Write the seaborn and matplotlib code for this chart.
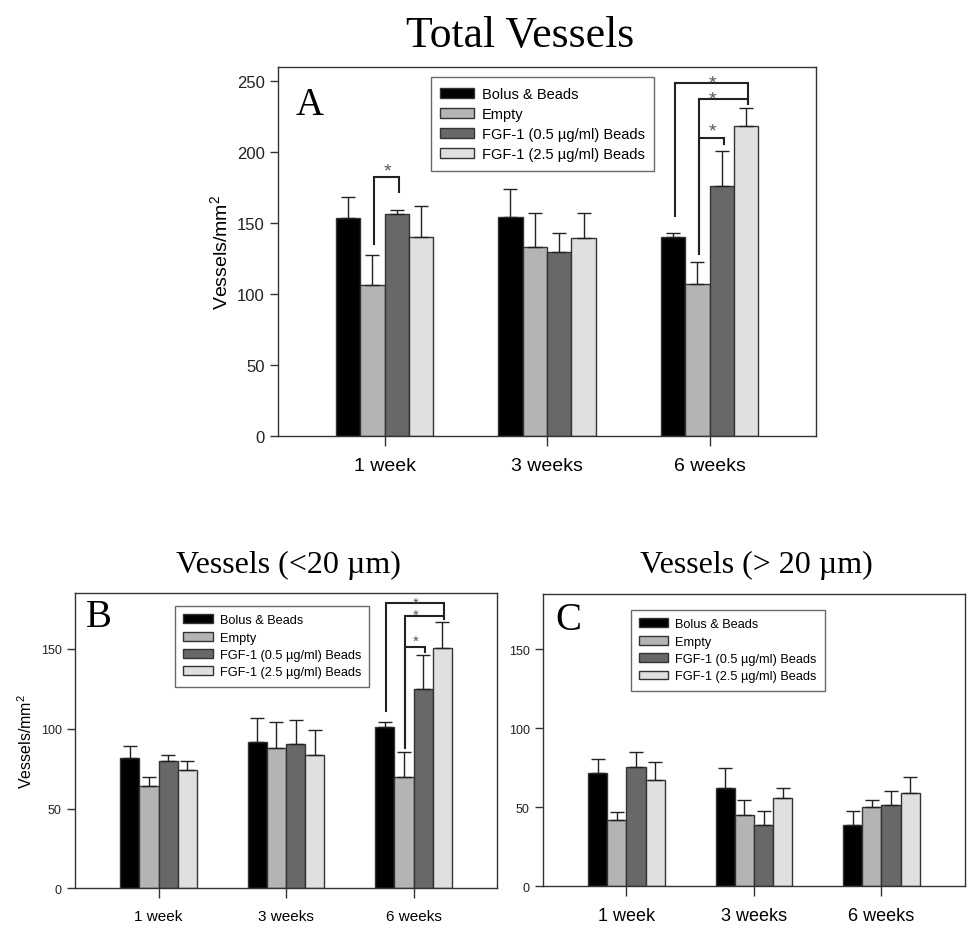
import numpy as np
import pandas as pd
import matplotlib
matplotlib.use("Agg")
import matplotlib.pyplot as plt
import matplotlib.transforms as mtransforms
import seaborn as sns

# ---------------- data ----------------
weeks = ["1 week", "3 weeks", "6 weeks"]
groups = ["Bolus & Beads", "Empty", "FGF-1 (0.5 µg/ml) Beads", "FGF-1 (2.5 µg/ml) Beads"]
colors = ["#000000", "#b4b4b4", "#686868", "#e0e0e0"]

# rows = groups, columns = weeks
total_mean = [[153.4, 154.6, 140.0],
              [106.4, 133.4, 107.6],
              [156.2, 129.9, 176.4],
              [140.5, 139.8, 218.7]]
total_err = [[15.0, 19.3, 3.0],
             [21.6, 23.5, 14.8],
             [3.0, 13.0, 24.4],
             [22.0, 17.3, 12.7]]

small_mean = [[81.7, 91.9, 101.1],
              [64.1, 87.9, 69.5],
              [80.0, 90.5, 124.6],
              [74.3, 83.8, 150.8]]
small_err = [[7.5, 15.1, 2.8],
             [5.4, 16.4, 15.9],
             [3.8, 14.8, 21.5],
             [5.3, 15.7, 16.3]]

large_mean = [[71.4, 62.3, 38.7],
              [41.8, 45.2, 49.9],
              [75.6, 38.7, 51.3],
              [67.4, 55.6, 58.9]]
large_err = [[9.1, 12.5, 9.0],
             [5.1, 9.5, 5.0],
             [9.5, 8.8, 9.3],
             [11.4, 6.3, 10.2]]

# significance brackets:
# (week index, left group, right group, left start, top, right end, star level)
total_sig = [(0, 1, 2, 135.3, 182.7, 172.1, 191.2),
             (2, 0, 3, 154.8, 248.6, 235.0, 253.0),
             (2, 1, 3, 129.5, 237.4, 233.9, 242.3),
             (2, 1, 2, 128.3, 209.7, 205.7, 219.8)]
small_sig = [(2, 0, 3, 111.0, 178.6, 170.2, 182.0),
             (2, 1, 3, 87.8, 170.6, 168.7, 174.0),
             (2, 1, 2, 89.6, 151.4, 148.2, 157.7)]
large_sig = []

# ---------------- style ----------------
plt.rcParams["font.family"] = ["Liberation Sans", "DejaVu Sans"]
plt.rcParams["mathtext.default"] = "regular"
SPINE = "#333333"
SERIF = ["Liberation Serif", "DejaVu Serif"]

fig = plt.figure(figsize=(9.78, 9.45), dpi=100)
axA = fig.add_axes([0.2843, 0.5372, 0.5501, 0.3908])
axB = fig.add_axes([0.0767, 0.0589, 0.4315, 0.3125])
axC = fig.add_axes([0.5552, 0.0611, 0.4315, 0.3093])


def make_df(mean):
    rows = []
    for gi, g in enumerate(groups):
        for wi, w in enumerate(weeks):
            rows.append({"week": w, "group": g, "value": mean[gi][wi]})
    return pd.DataFrame(rows)


def panel(ax, mean, err, sig, ylim, yticks, letter, letter_xy, leg_anchor,
          leg_fs, xt_fs, yt_fs, star_fs, ylabel=None, ylabel_fs=12):
    df = make_df(mean)
    sns.barplot(data=df, x="week", y="value", hue="group", order=weeks,
                hue_order=groups, palette=colors, width=0.6, errorbar=None,
                edgecolor=SPINE, linewidth=1.0, legend=False, ax=ax, zorder=2)
    bar_conts = list(ax.containers)
    centers = {}
    for gi, cont in enumerate(bar_conts):
        xs, hs = [], []
        for wi, p in enumerate(cont.patches):
            x = p.get_x() + p.get_width() / 2
            xs.append(x)
            hs.append(p.get_height())
            centers[(wi, gi)] = x
        e = np.array(err[gi])
        ax.errorbar(xs, hs, yerr=[np.zeros_like(e), e], fmt="none",
                    ecolor="#222222", elinewidth=1.0, capsize=5, capthick=1.0,
                    zorder=3)
    # shift text so that the asterisk glyph centre sits on the given level
    star_tr = mtransforms.offset_copy(ax.transData, fig=ax.figure,
                                      x=0, y=-0.56 * star_fs, units="points")
    for (wi, g1, g2, y0, ytop, y1, ystar) in sig:
        x1 = centers[(wi, g1)] + 0.01
        x2 = centers[(wi, g2)] + 0.012
        ax.plot([x1, x1, x2, x2], [y0, ytop, ytop, y1], color="#222222",
                lw=1.5, zorder=4, solid_joinstyle="miter")
        ax.text(wi + 0.02, ystar, "*", ha="center", va="baseline",
                fontsize=star_fs, color="#555555", zorder=5,
                transform=star_tr)
    ax.set_xlim(-0.655, 2.655)
    ax.set_ylim(*ylim)
    ax.set_yticks(yticks)
    ax.set_xlabel("")
    ax.set_ylabel(ylabel if ylabel else "", fontsize=ylabel_fs)
    ax.tick_params(axis="x", direction="out", length=7, width=1,
                   color=SPINE, labelsize=xt_fs, pad=8)
    ax.tick_params(axis="y", direction="out", length=6, width=1,
                   color=SPINE, labelsize=yt_fs, labelcolor="#222222")
    for s in ax.spines.values():
        s.set_color(SPINE)
        s.set_linewidth(1.0)
    ax.text(letter_xy[0], letter_xy[1], letter, transform=ax.transAxes,
            family=SERIF, fontsize=28, va="baseline", ha="left")
    leg = ax.legend(bar_conts, groups, loc="upper left",
                    bbox_to_anchor=leg_anchor, frameon=True, fancybox=False,
                    edgecolor="#444444", fontsize=leg_fs, handlelength=2.3,
                    handleheight=0.7, labelspacing=0.42, borderpad=0.65,
                    handletextpad=0.55, borderaxespad=0)
    leg.get_frame().set_linewidth(1.0)


panel(axA, total_mean, total_err, total_sig, (0, 260), [0, 50, 100, 150, 200, 250],
      "A", (0.032, 0.873), (0.284, 0.972), 10.5, 14, 12, 14,
      ylabel="Vessels/mm$^2$", ylabel_fs=14)
panel(axB, small_mean, small_err, small_sig, (0, 185), [0, 50, 100, 150],
      "B", (0.026, 0.888), (0.237, 0.956), 9.2, 11, 9, 11,
      ylabel="Vessels/mm$^2$", ylabel_fs=11.5)
panel(axC, large_mean, large_err, large_sig, (0, 185), [0, 50, 100, 150],
      "C", (0.03, 0.880), (0.208, 0.945), 9.2, 13, 9, 11)

fig.text(520 / 978, 1 - 36 / 945, "Total Vessels", family=SERIF, fontsize=31.5,
         ha="center", va="center")
fig.text(288 / 978, 1 - 565 / 945, "Vessels (<20 µm)", family=SERIF, fontsize=23,
         ha="center", va="center")
fig.text(756 / 978, 1 - 565 / 945, "Vessels (> 20 µm)", family=SERIF, fontsize=23,
         ha="center", va="center")

fig.savefig("out.png", dpi=100)
